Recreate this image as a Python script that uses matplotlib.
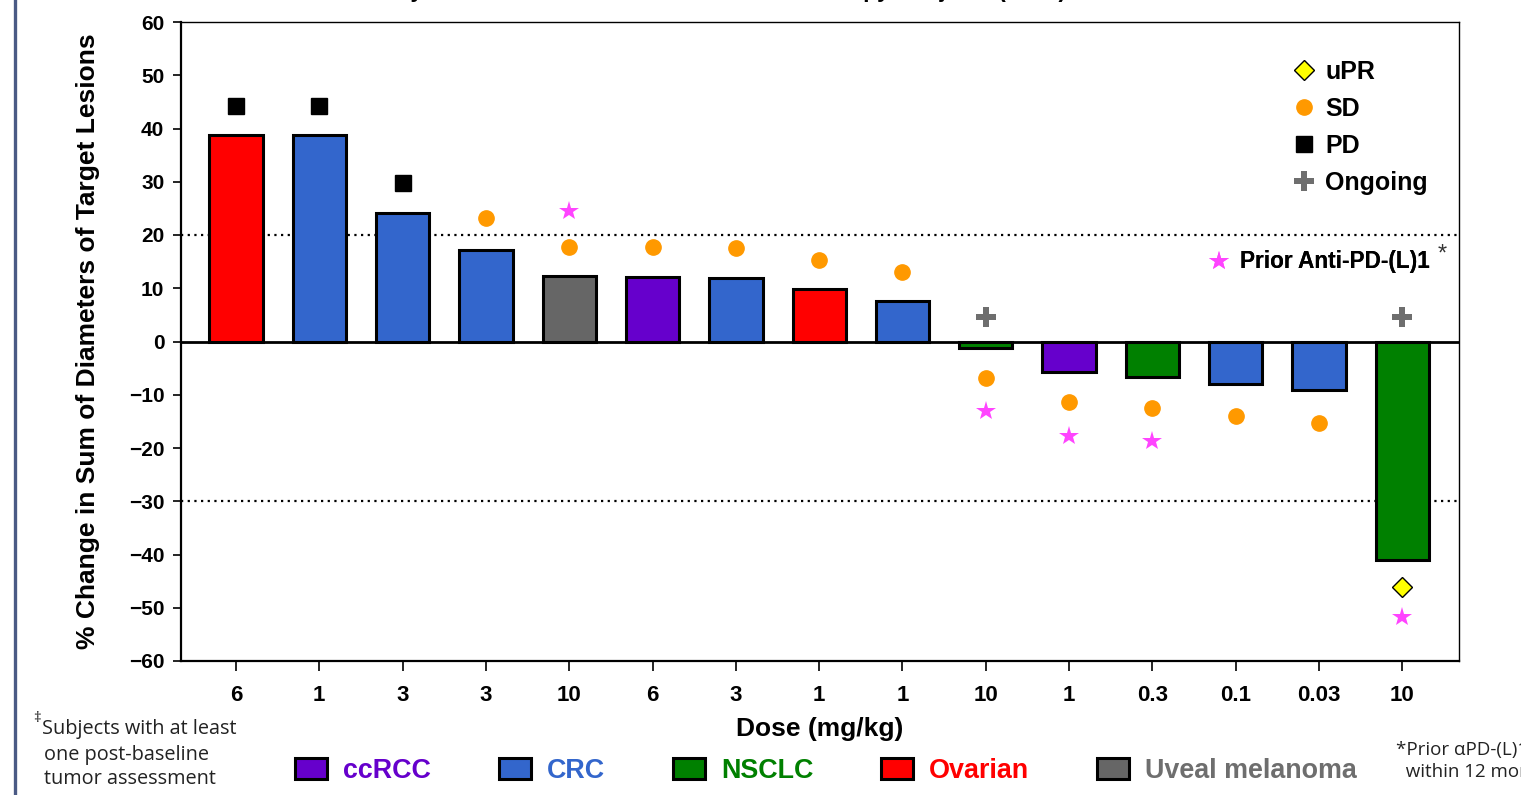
#!/usr/bin/env python3
"""
Waterfall plot: best % change in target lesions by subject, monotherapy.
"""

import numpy as np
import matplotlib
matplotlib.use("Agg")
import matplotlib.pyplot as plt
from matplotlib.lines import Line2D
from matplotlib.patches import Patch

plt.rcParams["font.family"] = ["Liberation Sans", "DejaVu Sans"]

# ---- data ----
doses = ["6", "1", "3", "3", "10", "6", "3", "1", "1", "10", "1", "0.3", "0.1", "0.03", "10"]
tumor = ["Ovarian", "CRC", "CRC", "CRC", "Uveal melanoma", "ccRCC", "CRC", "Ovarian", "CRC",
         "NSCLC", "ccRCC", "NSCLC", "CRC", "CRC", "NSCLC"]
pct_change = [38.8, 38.8, 24.1, 17.2, 12.3, 12.1, 11.9, 9.9, 7.6,
              -1.2, -5.7, -6.7, -8.0, -9.1, -41.0]

nan = np.nan
pd_marker = [44.2, 44.2, 29.8, nan, nan, nan, nan, nan, nan, nan, nan, nan, nan, nan, nan]
sd_marker = [nan, nan, nan, 23.2, 17.7, 17.7, 17.5, 15.3, 13.1, -6.9, -11.4, -12.5, -14.0, -15.3, nan]
upr_marker = [nan] * 14 + [-46.1]
ongoing_marker = [nan] * 9 + [4.6] + [nan] * 4 + [4.6]
prior_pd1_marker = [nan, nan, nan, nan, 24.5, nan, nan, nan, nan, -13.1, -17.7, -18.7, nan, nan, -51.7]

tumor_types = ["ccRCC", "CRC", "NSCLC", "Ovarian", "Uveal melanoma"]
tumor_colors = {"ccRCC": "#6600CC", "CRC": "#3366CC", "NSCLC": "#008000",
                "Ovarian": "#FF0000", "Uveal melanoma": "#666666"}
text_colors = {"ccRCC": "#6600CC", "CRC": "#3366CC", "NSCLC": "#008000",
               "Ovarian": "#FF0000", "Uveal melanoma": "#6E6E6E"}


def main():
    fig = plt.figure(figsize=(15.21, 7.95), dpi=100)
    ax = fig.add_axes([181 / 1521, 1 - 661 / 795, 1278 / 1521, 639 / 795])

    x = np.arange(len(pct_change))
    ax.bar(x, pct_change, width=0.64, color=[tumor_colors[t] for t in tumor],
           edgecolor="black", linewidth=2.2, zorder=2)

    ax.axhline(0, color="black", linewidth=2.0, zorder=3)
    ax.axhline(20, color="black", linestyle=(0, (1, 2)), linewidth=1.6, zorder=1)
    ax.axhline(-30, color="black", linestyle=(0, (1, 2)), linewidth=1.6, zorder=1)

    ax.plot(x, pd_marker, "s", color="black", ms=11.5, ls="none", zorder=4)
    ax.plot(x, sd_marker, "o", color="#FF9900", ms=11, ls="none", zorder=4)
    ax.plot(x, upr_marker, "D", mfc="#FFFF00", mec="black", mew=1.0, ms=10, ls="none", zorder=4)
    ax.plot(x, ongoing_marker, "P", color="#6E6E6E", ms=14, mew=0, ls="none", zorder=4)
    ax.plot(x, prior_pd1_marker, "*", color="#FF44FF", ms=15, mew=0, ls="none", zorder=4)

    ax.set_xlim(-0.66, 14.68)
    ax.set_ylim(-60, 60)
    ax.set_yticks(np.arange(-60, 61, 10))
    ax.set_xticks(x)
    ax.set_xticklabels(doses)
    ax.tick_params(axis="y", direction="out", length=6, width=1.2, pad=6, labelsize=15)
    ax.tick_params(axis="x", direction="out", length=7, width=1.2, pad=10, labelsize=16)
    for lab in ax.get_xticklabels() + ax.get_yticklabels():
        lab.set_fontweight("bold")
    for side in ["left", "bottom"]:
        ax.spines[side].set_linewidth(1.6)
    for side in ["top", "right"]:
        ax.spines[side].set_linewidth(1.0)

    ax.set_ylabel("% Change in Sum of Diameters of Target Lesions", fontsize=19, fontweight="bold")
    ax.yaxis.set_label_coords(-0.063, 0.5)
    ax.set_xlabel("Dose (mg/kg)", fontsize=19, fontweight="bold")
    ax.xaxis.set_label_coords(0.5, -0.088)

    # response legend (top right)
    resp_handles = [
        Line2D([], [], marker="D", mfc="#FFFF00", mec="black", mew=1.0, ms=10, ls="none"),
        Line2D([], [], marker="o", color="#FF9900", ms=11, ls="none"),
        Line2D([], [], marker="s", color="black", ms=11, ls="none"),
        Line2D([], [], marker="P", color="#6E6E6E", mew=0, ms=14, ls="none"),
    ]
    leg1 = ax.legend(resp_handles, ["uPR", "SD", "PD", "Ongoing"], loc="upper left",
                     bbox_to_anchor=(1293 / 1521, 1 - 60 / 795), bbox_transform=fig.transFigure,
                     frameon=False, borderpad=0, borderaxespad=0, handlelength=0.9,
                     handletextpad=0.4, labelspacing=0.52, prop={"size": 18, "weight": "bold"})
    ax.add_artist(leg1)

    star_handle = [Line2D([], [], marker="*", color="#FF44FF", mew=0, ms=15, ls="none")]
    leg2 = ax.legend(star_handle, ["Prior Anti-PD-(L)1"], loc="center left",
                     bbox_to_anchor=(1208 / 1521, 1 - 262 / 795), bbox_transform=fig.transFigure,
                     frameon=False, borderpad=0, borderaxespad=0, handlelength=1.0,
                     handletextpad=0.4, prop={"size": 16.3, "weight": "bold"})
    ax.add_artist(leg2)
    fig.text(1442 / 1521, 1 - 255 / 795, "*", fontsize=17, color="#333333", ha="center", va="center")

    # tumor type legend (bottom)
    tumor_handles = [Patch(facecolor=tumor_colors[t], edgecolor="black", linewidth=2.2)
                     for t in tumor_types]
    leg3 = fig.legend(tumor_handles, tumor_types, loc="center", ncol=5,
                      bbox_to_anchor=(826 / 1521, 1 - 771 / 795), frameon=False,
                      borderpad=0, handlelength=1.2, handleheight=0.85, handletextpad=0.6,
                      columnspacing=2.5, prop={"size": 19.4, "weight": "bold"})
    for txt, t in zip(leg3.get_texts(), tumor_types):
        txt.set_color(text_colors[t])

    # title (cut off at top of image)
    fig.text(0.431, 1.004, "Waterfall Plot by Best Tumor Reduction in the Monotherapy Subjects (n=15)",
             fontsize=16.5, fontweight="bold", ha="center", va="baseline")

    # footnotes
    fig.text(33 / 1521, 1 - 719 / 795, "\u2021", fontsize=11, color="#222222",
             family=["Open Sans", "DejaVu Sans"], ha="left", va="center")
    fig.text(42 / 1521, 1 - 729 / 795, "Subjects with at least", fontsize=14.3, color="#222222",
             family=["Open Sans", "DejaVu Sans"], ha="left", va="center")
    fig.text(44 / 1521, 1 - 767 / 795, "one post-baseline\ntumor assessment", fontsize=14.3,
             color="#222222", family=["Open Sans", "DejaVu Sans"], ha="left", va="center",
             linespacing=1.25)
    fig.text(1396 / 1521, 1 - 761 / 795, "*Prior \u03b1PD-(L)1\n  within 12 months", fontsize=13.5,
             color="#222222", family=["Open Sans", "DejaVu Sans"], ha="left", va="center",
             linespacing=1.25)

    # left border line
    fig.add_artist(Line2D([15 / 1521, 15 / 1521], [0, 1], transform=fig.transFigure,
                          color="#4A5A85", linewidth=2.4))

    fig.savefig("out.png", dpi=100)
    plt.close(fig)


if __name__ == "__main__":
    main()
